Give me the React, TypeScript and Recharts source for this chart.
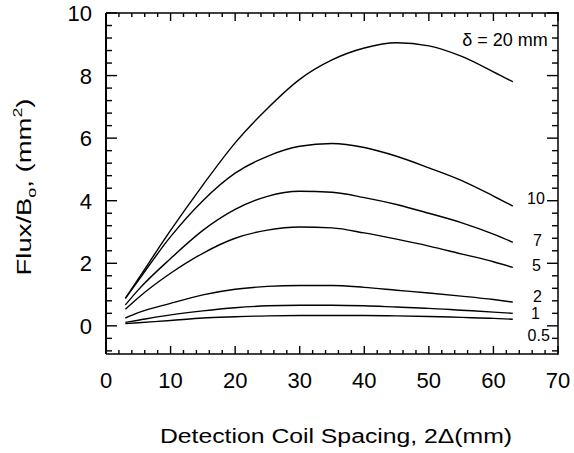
import React from "react";
import { LineChart, Line, XAxis, YAxis, Label } from "recharts";

const spacing = [3, 5, 10, 15, 20, 25, 30, 35, 40, 45, 50, 55, 60, 63];
const delta20 = [0.88, 1.5, 3.05, 4.5, 5.85, 6.95, 7.88, 8.5, 8.88, 9.05, 8.95, 8.62, 8.12, 7.8];
const delta10 = [0.88, 1.45, 2.85, 4.0, 4.88, 5.42, 5.74, 5.83, 5.7, 5.42, 5.05, 4.65, 4.15, 3.83];
const delta7 = [0.67, 1.15, 2.15, 3.05, 3.72, 4.14, 4.3, 4.27, 4.1, 3.88, 3.6, 3.3, 2.93, 2.67];
const delta5 = [0.53, 0.9, 1.68, 2.32, 2.8, 3.06, 3.16, 3.13, 2.97, 2.77, 2.55, 2.3, 2.05, 1.87];
const delta2 = [0.25, 0.42, 0.72, 0.99, 1.17, 1.26, 1.29, 1.29, 1.23, 1.14, 1.05, 0.95, 0.84, 0.76];
const delta1 = [0.11, 0.18, 0.35, 0.48, 0.58, 0.64, 0.66, 0.66, 0.64, 0.6, 0.56, 0.5, 0.44, 0.4];
const delta05 = [0.07, 0.1, 0.17, 0.25, 0.29, 0.32, 0.33, 0.33, 0.33, 0.32, 0.3, 0.27, 0.24, 0.21];

const seriesLabels = ["δ = 20 mm", "10", "7", "5", "2", "1", "0.5"];

const xDomain = [0, 70];
const yDomain = [-0.9, 10];
const xTicks = [0, 2, 4, 6, 8, 10, 12, 14, 16, 18, 20, 22, 24, 26, 28, 30, 32, 34, 36, 38, 40, 42, 44, 46, 48, 50, 52, 54, 56, 58, 60, 62, 64, 66, 68, 70];
const xMajor = [0, 10, 20, 30, 40, 50, 60, 70];
const yTicks = [-0.8, -0.4, 0, 0.4, 0.8, 1.2, 1.6, 2, 2.4, 2.8, 3.2, 3.6, 4, 4.4, 4.8, 5.2, 5.6, 6, 6.4, 6.8, 7.2, 7.6, 8, 8.4, 8.8, 9.2, 9.6, 10];
const yMajor = [0, 2, 4, 6, 8, 10];

const seriesValues = [delta20, delta10, delta7, delta5, delta2, delta1, delta05];
const keys = ["d20", "d10", "d7", "d5", "d2", "d1", "d05"];

const isIn = (arr: number[], v: number) => arr.some((a) => Math.abs(a - v) < 1e-6);

const data = spacing.map((x, i) => {
  const row: Record<string, number> = { x };
  keys.forEach((k, j) => {
    row[k] = seriesValues[j][i];
  });
  return row;
});

// label placement relative to the last point of each line (style only)
const labelStyle = [
  { dx: 35, dy: -36, size: 18 },
  { dx: 32, dy: -2, size: 16 },
  { dx: 29, dy: 4, size: 16 },
  { dx: 28, dy: 4, size: 16 },
  { dx: 29, dy: 0, size: 16 },
  { dx: 27, dy: 6, size: 16 },
  { dx: 37, dy: 22, size: 16 },
];

const W = 574;
const H = 453;
const PLOT_TOP = 13;
const PLOT_LEFT = 106;
const MARGIN_RIGHT = 16;
const XAXIS_H = 99;
const plotW = W - PLOT_LEFT - MARGIN_RIGHT;
const plotH = H - PLOT_TOP - XAXIS_H;

const FONT = "'Liberation Sans', Arial, Helvetica, sans-serif";
const TW = 1.4; // tick thickness

// x tick: inward marks at bottom and top, label for majors, right frame edge at the last tick
const XTick = (props: any) => {
  const x = Number(props.x);
  const y = Number(props.y);
  const v = props.payload.value;
  const major = isIn(xMajor, v);
  const len = major ? 8 : 4;
  const top = y - plotH;
  return (
    <g>
      <rect x={x - TW / 2} y={y - len} width={TW} height={len} fill="#000" stroke="none" />
      <rect x={x - TW / 2} y={top} width={TW} height={len} fill="#000" stroke="none" />
      {v === xDomain[1] && <rect x={x - 0.75} y={top - 0.75} width={1.5} height={plotH + 1.5} fill="#000" stroke="none" />}
      {major && (
        <text x={x} y={y + 34} textAnchor="middle" fontSize={22} fontFamily={FONT} fill="#000" stroke="none">
          {v}
        </text>
      )}
    </g>
  );
};

// y tick: inward marks at left and right, label for majors, top frame edge at the last tick
const YTick = (props: any) => {
  const x = Number(props.x);
  const y = Number(props.y);
  const v = props.payload.value;
  const major = isIn(yMajor, v);
  const len = major ? 11 : 6;
  const right = x + plotW;
  return (
    <g>
      <rect x={x} y={y - TW / 2} width={len} height={TW} fill="#000" stroke="none" />
      <rect x={right - len} y={y - TW / 2} width={len} height={TW} fill="#000" stroke="none" />
      {v === yDomain[1] && <rect x={x} y={y - 0.75} width={plotW + 0.75} height={1.5} fill="#000" stroke="none" />}
      {major && (
        <text x={x - 14} y={y + 8} textAnchor="end" fontSize={22} fontFamily={FONT} fill="#000" stroke="none">
          {v}
        </text>
      )}
    </g>
  );
};

const makeEndLabel = (idx: number) => (props: any) => {
  const { x, y, index } = props;
  if (index !== spacing.length - 1) return null;
  const s = labelStyle[idx];
  return (
    <text
      key={`lab-${idx}`}
      x={Number(x) + s.dx}
      y={Number(y) + s.dy}
      textAnchor="end"
      fontSize={s.size}
      fontFamily={FONT}
      fill="#000"
    >
      {seriesLabels[idx]}
    </text>
  );
};

const YTitle = (props: any) => {
  const vb = props.viewBox || { x: 0 };
  const cx = (vb.x || 0) + 31;
  const cy = PLOT_TOP + 174;
  return (
    <text
      x={cx}
      y={cy}
      transform={`rotate(-90, ${cx}, ${cy})`}
      textAnchor="middle"
      fontSize={20}
      fontFamily={FONT}
      fill="#000"
      textLength={177}
      lengthAdjust="spacingAndGlyphs"
    >
      Flux/B
      <tspan dy={5} fontSize={13}>o</tspan>
      <tspan dy={-5}>, (mm</tspan>
      <tspan dy={-9} fontSize={13}>2</tspan>
      <tspan dy={9}>)</tspan>
    </text>
  );
};

const XTitle = () => (
  <text
    x={336}
    y={PLOT_TOP + plotH + 89}
    textAnchor="middle"
    fontSize={20}
    fontFamily={FONT}
    fill="#000"
    textLength={352}
    lengthAdjust="spacingAndGlyphs"
  >
    Detection Coil Spacing, 2Δ(mm)
  </text>
);

export default function App() {
  return (
    <div style={{ position: "absolute", left: 0, top: 0, width: W, height: H, background: "#fff" }}>
      <LineChart width={W} height={H} data={data} margin={{ top: PLOT_TOP, right: MARGIN_RIGHT, left: 0, bottom: 0 }}>
        <XAxis
          dataKey="x"
          type="number"
          domain={xDomain}
          ticks={xTicks}
          interval={0}
          tickLine={false}
          tickSize={0}
          tickMargin={0}
          axisLine={{ stroke: "#000", strokeWidth: 1.5 }}
          tick={<XTick />}
          height={XAXIS_H}
        >
          <Label content={<XTitle />} />
        </XAxis>
        <YAxis
          type="number"
          domain={yDomain}
          ticks={yTicks}
          interval={0}
          tickLine={false}
          tickSize={0}
          tickMargin={0}
          axisLine={{ stroke: "#000", strokeWidth: 2 }}
          tick={<YTick />}
          width={PLOT_LEFT}
        >
          <Label content={<YTitle />} />
        </YAxis>

        {keys.map((k, i) => (
          <Line
            key={k}
            dataKey={k}
            type="monotone"
            stroke="#000"
            strokeWidth={1.4}
            dot={false}
            activeDot={false}
            isAnimationActive={false}
            label={makeEndLabel(i)}
          />
        ))}
      </LineChart>
    </div>
  );
}
